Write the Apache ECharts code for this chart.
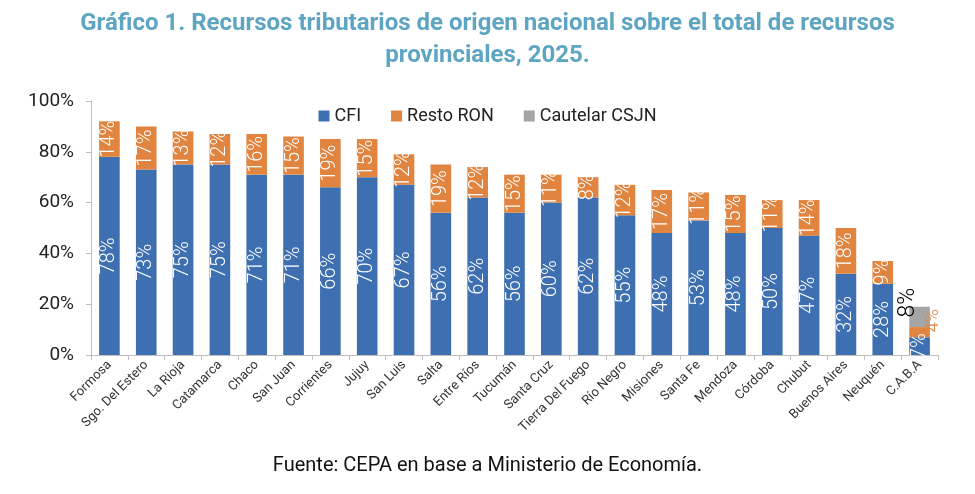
<!DOCTYPE html>
<html>
<head>
<meta charset="utf-8">
<script src="https://cdn.jsdelivr.net/npm/echarts@6/dist/echarts.min.js"></script>
<style>
html,body{margin:0;padding:0;background:#fff;}
#chart{width:975px;height:494px;}
</style>
</head>
<body>
<div id="chart"></div>
<script>
const categories = ["Formosa","Sgo. Del Estero","La Rioja","Catamarca","Chaco","San Juan","Corrientes","Jujuy","San Luis","Salta","Entre Ríos","Tucumán","Santa Cruz","Tierra Del Fuego","Río Negro","Misiones","Santa Fe","Mendoza","Córdoba","Chubut","Buenos Aires","Neuquén","C.A.B.A"];
const cfi = [78,73,75,75,71,71,66,70,67,56,62,56,60,62,55,48,53,48,50,47,32,28,7];
const restoRon = [14,17,13,12,16,15,19,15,12,19,12,15,11,8,12,17,11,15,11,14,18,9,4];
const cautelar = [null,null,null,null,null,null,null,null,null,null,null,null,null,null,null,null,null,null,null,null,null,null,8];
const yTicks = {min:0, max:100, interval:20};

const FONT = 'Roboto, "Liberation Sans", sans-serif';
const last = categories.length - 1;

const chart = echarts.init(document.getElementById('chart'), null, {renderer:'canvas'});

const labelBase = {show:true, rotate:90, position:'inside', color:'#fff', fontSize:20, fontWeight:300, fontFamily:FONT, formatter:'{c}%'};

const restoData = restoRon.map((v,i)=> i===last ? {value:v, label:{position:'right', color:'#E0843F', distance:-4, offset:[0,8], fontSize:18}} : v);
const cautelarData = cautelar.map((v,i)=> v===null ? '-' : {value:v, label:{position:'top', color:'#000', fontSize:23, distance:4}});

chart.setOption({
  animation:false,
  title:{
    text:'Gráfico 1. Recursos tributarios de origen nacional sobre el total de recursos\nprovinciales, 2025.',
    left:'center', top:3,
    textStyle:{color:'#5EA5C2', fontSize:24, fontWeight:'bold', fontFamily:FONT, lineHeight:32}
  },
  legend:{
    top:102, left:'center', itemWidth:11, itemHeight:11, itemGap:30,
    icon:'rect',
    textStyle:{fontSize:18, color:'#222', fontFamily:FONT},
    data:['CFI','Resto RON','Cautelar CSJN']
  },
  graphic:[{
    type:'text', left:'center', top:456,
    style:{text:'Fuente: CEPA en base a Ministerio de Economía.', fontSize:20, fill:'#111', fontFamily:FONT}
  }],
  grid:{left:91, right:37, top:101, bottom:139, containLabel:false},
  xAxis:{
    type:'category', data:categories,
    axisLine:{lineStyle:{color:'#bfbfbf'}},
    axisTick:{show:true, length:5, lineStyle:{color:'#bfbfbf'}},
    axisLabel:{rotate:45, fontSize:13, color:'#333', fontFamily:FONT, interval:0, margin:8}
  },
  yAxis:{
    type:'value', min:yTicks.min, max:yTicks.max, interval:yTicks.interval,
    axisLine:{show:true, lineStyle:{color:'#bfbfbf'}},
    axisTick:{show:true, length:5, lineStyle:{color:'#bfbfbf'}},
    splitLine:{show:false},
    axisLabel:{formatter:'{value}%', fontSize:19, color:'#222', fontFamily:FONT, margin:17}
  },
  series:[
    {name:'CFI', type:'bar', stack:'t', data:cfi, barWidth:'56%', itemStyle:{color:'#3D6FB1'}, label:labelBase},
    {name:'Resto RON', type:'bar', stack:'t', data:restoData, itemStyle:{color:'#E0843F'}, label:labelBase},
    {name:'Cautelar CSJN', type:'bar', stack:'t', data:cautelarData, itemStyle:{color:'#A5A5A5'}, label:labelBase}
  ]
});
</script>
</body>
</html>
